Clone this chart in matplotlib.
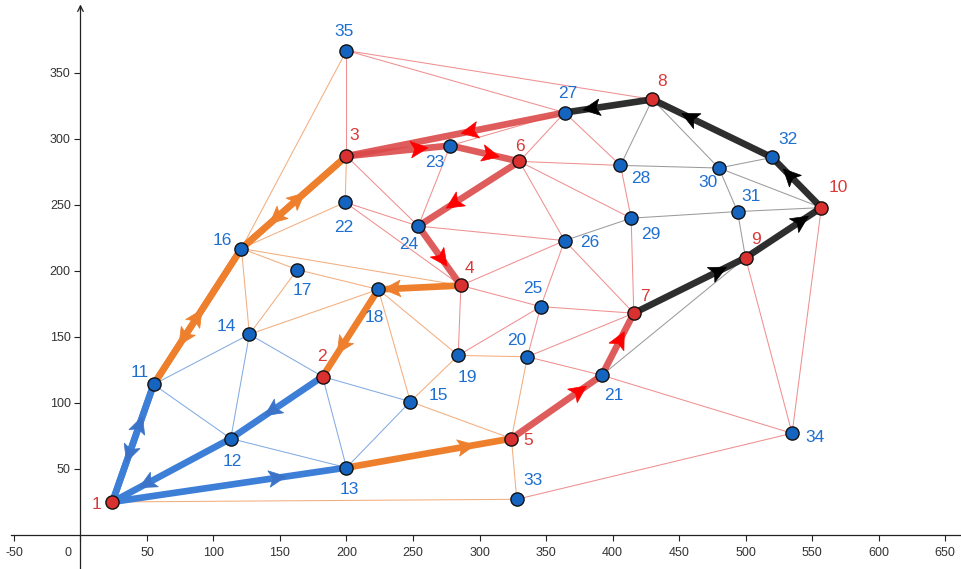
import numpy as np
import matplotlib
matplotlib.use("Agg")
import matplotlib.pyplot as plt
import matplotlib.transforms as mtransforms
from matplotlib.patches import Polygon

plt.rcParams["font.family"] = ["Liberation Sans", "DejaVu Sans"]

# ── node coordinates ─────────────────────────────────────────────────────────
node_ids = list(range(1, 36))
node_x = [24, 182, 200, 286, 324, 330, 416, 430, 500, 557,
          55, 113, 200, 127, 248, 121, 163, 224, 284, 336,
          392, 199, 278, 254, 346, 364, 364, 406, 414, 480,
          494, 520, 328, 535, 200]
node_y = [25, 120, 287, 189, 73, 283, 168, 330, 210, 248,
          114, 73, 51, 152, 101, 217, 201, 186, 136, 135,
          121, 252, 295, 234, 173, 223, 320, 280, 240, 278,
          245, 286, 27, 77, 367]
red_nodes = [1, 2, 3, 4, 5, 6, 7, 8, 9, 10]

# ── thin network edges, grouped by colour ────────────────────────────────────
edges_blue = [(11, 12), (11, 14), (12, 14), (12, 13), (14, 2), (2, 13),
              (2, 15), (13, 15), (1, 12), (1, 13), (1, 11)]
edges_orange = [(16, 35), (16, 14), (16, 17), (16, 22), (16, 4), (17, 14),
                (17, 18), (14, 18), (18, 15), (18, 19), (15, 19), (15, 5),
                (19, 20), (20, 5), (5, 33), (1, 33), (3, 22)]
edges_red = [(35, 3), (35, 27), (35, 8), (3, 24), (22, 24), (22, 4),
             (23, 24), (23, 27), (24, 26), (6, 27), (6, 28), (6, 29),
             (6, 26), (27, 28), (28, 29), (29, 7), (26, 25), (26, 7),
             (26, 4), (25, 4), (25, 7), (25, 20), (19, 4), (19, 25),
             (20, 21), (20, 7), (21, 34), (33, 34), (9, 34), (10, 34)]
edges_gray = [(8, 28), (8, 30), (28, 30), (30, 32), (30, 31), (30, 10),
              (31, 29), (31, 10), (29, 26), (31, 9), (21, 9)]

# ── routes (directed) ────────────────────────────────────────────────────────
route_blue = [(1, 11), (11, 1), (2, 12), (12, 1), (1, 13)]
route_orange = [(11, 16), (16, 11), (16, 3), (3, 16), (13, 5), (4, 18), (18, 2)]
route_red = [(5, 21), (21, 7), (27, 3), (3, 23), (23, 6), (6, 24), (24, 4)]
route_black = [(7, 9), (9, 10), (10, 32), (32, 8), (8, 27)]

# where the arrowhead sits along each directed edge
arrow_pos = {(1, 11): 0.65, (11, 1): 0.58, (2, 12): 0.54, (12, 1): 0.70,
             (1, 13): 0.70, (11, 16): 0.49, (16, 11): 0.65, (16, 3): 0.53,
             (3, 16): 0.66, (13, 5): 0.72, (4, 18): 0.82, (18, 2): 0.64,
             (5, 21): 0.74, (21, 7): 0.56, (27, 3): 0.43, (3, 23): 0.69,
             (23, 6): 0.57, (6, 24): 0.64, (24, 4): 0.54, (7, 9): 0.75,
             (9, 10): 0.72, (10, 32): 0.63, (32, 8): 0.68, (8, 27): 0.68}

# label offsets in pixels (dx, dy) relative to node
label_off = {1: (-16, -3), 2: (-1, 20), 3: (8, 21), 4: (9, 17), 5: (17, -2),
             6: (1, 15), 7: (11, 17), 8: (10, 18), 9: (10, 18), 10: (17, 20),
             11: (-14, 12), 12: (2, -23), 13: (3, -22), 14: (-23, 8),
             15: (28, 6), 16: (-19, 8), 17: (5, -21), 18: (-4, -28),
             19: (9, -22), 20: (-11, 16), 21: (12, -20), 22: (-1, -25),
             23: (-15, -17), 24: (-10, -18), 25: (-8, 18), 26: (25, -2),
             27: (3, 19), 28: (20, -13), 29: (20, -16), 30: (-11, -14),
             31: (14, 15), 32: (16, 18), 33: (16, 19), 34: (23, -4),
             35: (-2, 19)}

pos = {n: (x, y) for n, x, y in zip(node_ids, node_x, node_y)}

fig = plt.figure(figsize=(9.61, 5.69), dpi=100)
ax = fig.add_axes([0, 0, 1, 1])
ax.set_xlim(-60.5, 662)
ax.set_ylim(-25.8, 405.3)

# ── axes in the middle ───────────────────────────────────────────────────────
for s in ("top", "right"):
    ax.spines[s].set_visible(False)
ax.spines["left"].set_position(("data", 0))
ax.spines["bottom"].set_position(("data", 0))
ax.spines["bottom"].set_bounds(-52, 662)
ax.spines["left"].set_bounds(-25.8, 401)
for s in ("left", "bottom"):
    ax.spines[s].set_linewidth(0.9)
    ax.spines[s].set_color("#222222")
ax.annotate("", xy=(0, 404), xytext=(0, 395),
            arrowprops=dict(arrowstyle="->", lw=0.9, color="#222222"))

xt = np.arange(-50, 651, 50)
yt = np.arange(50, 351, 50)
ax.set_xticks(xt)
ax.set_xticklabels([str(v) for v in xt])
ax.set_yticks(yt)
ax.set_yticklabels([str(v) for v in yt])
ax.tick_params(axis="both", direction="out", length=4, width=0.8,
               colors="#222222", labelsize=9, labelcolor="#333333")
ax.tick_params(axis="x", pad=5)
ax.tick_params(axis="y", pad=3)
# origin label sits left of the vertical axis
shift = mtransforms.ScaledTranslation(-9 / 72, 0, fig.dpi_scale_trans)
for lab in ax.get_xticklabels():
    if lab.get_text() == "0":
        lab.set_transform(lab.get_transform() + shift)

# ── thin edges ───────────────────────────────────────────────────────────────
thin_styles = [(edges_blue, "#5b8fd9", 0.75), (edges_orange, "#f0a068", 0.85),
               (edges_red, "#ec7474", 0.8), (edges_gray, "#8a8a8a", 0.85)]
for edges, col, alpha in thin_styles:
    for a, b in edges:
        ax.plot([pos[a][0], pos[b][0]], [pos[a][1], pos[b][1]],
                color=col, lw=0.75, alpha=alpha, zorder=1,
                solid_capstyle="round")


def arrowhead(a, b, t, color):
    (x0, y0), (x1, y1) = pos[a], pos[b]
    d = np.array([x1 - x0, y1 - y0], float)
    d /= np.hypot(*d)
    n = np.array([-d[1], d[0]])
    c = np.array([x0, y0]) + t * np.array([x1 - x0, y1 - y0])
    tip = c + d * 7.5
    back = c - d * 5.5
    notch = c - d * 2.5
    pts = [tip, back + n * 6.3, notch, back - n * 6.3]
    ax.add_patch(Polygon(pts, closed=True, facecolor=color,
                         edgecolor=color, lw=0.5, zorder=3))


# ── thick routes ─────────────────────────────────────────────────────────────
routes = [(route_blue, "#3d7fd6", "#3b73c8", 1.0),
          (route_orange, "#ee7f2d", "#ee7f2d", 1.0),
          (route_red, "#dc4a4a", "#ff0000", 0.9),
          (route_black, "#2e2e2e", "#000000", 1.0)]
for route, col, acol, alpha in routes:
    for a, b in route:
        ax.plot([pos[a][0], pos[b][0]], [pos[a][1], pos[b][1]],
                color=col, lw=4.8, alpha=alpha, zorder=2,
                solid_capstyle="butt")
    for a, b in route:
        arrowhead(a, b, arrow_pos[(a, b)], acol)

# ── nodes and labels ─────────────────────────────────────────────────────────
for n in node_ids:
    is_red = n in red_nodes
    ax.plot(*pos[n], marker="o", ms=9.5,
            mfc="#d93030" if is_red else "#1565c0",
            mec="#111111", mew=1.0, zorder=4)
    dx, dy = label_off[n]
    ax.annotate(str(n), pos[n], xytext=(dx, dy), textcoords="offset pixels",
                ha="center", va="center", fontsize=12.5,
                color="#d93a3a" if is_red else "#1f6fd0", zorder=5)

fig.savefig("out.png", dpi=100)
